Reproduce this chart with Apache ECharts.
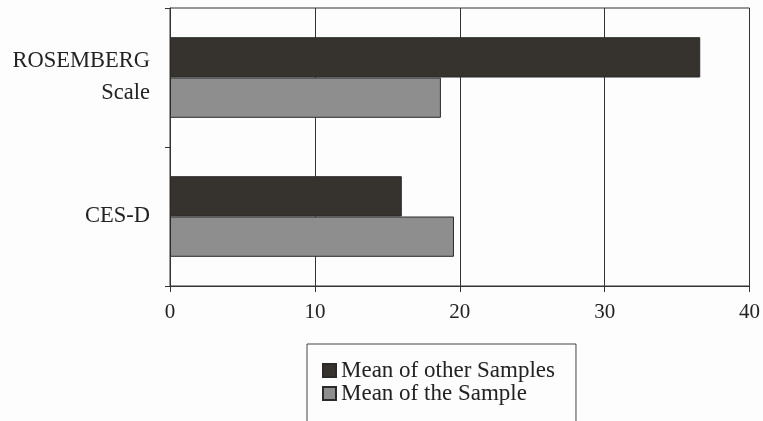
<!DOCTYPE html>
<html><head><meta charset="utf-8">
<script src="https://cdn.jsdelivr.net/npm/echarts@6/dist/echarts.min.js"></script>
<style>html,body{margin:0;padding:0;background:#fdfdfd}#c{width:763px;height:421px}</style>
</head><body><div id="c"></div>
<script>
const categories = ['ROSEMBERG\nScale', 'CES-D'];
const otherSamples = [36.6, 16.0];
const theSample = [18.7, 19.6];
const seriesNames = ['Mean of other Samples', 'Mean of the Sample'];
const xTicks = [0, 10, 20, 30, 40];

const FONT = '"Liberation Serif", "DejaVu Serif", serif';
const chart = echarts.init(document.getElementById('c'), null, {renderer: 'canvas'});
chart.setOption({
  backgroundColor: '#fdfdfd',
  animation: false,
  grid: {left: 170, right: 13, top: 8, bottom: 135, show: true, borderColor: '#333', borderWidth: 1, backgroundColor: 'transparent'},
  legend: {
    orient: 'vertical', left: 307, top: 344, height: 200,
    padding: [15, 21, 60, 15],
    borderColor: '#444', borderWidth: 1,
    icon: 'rect',
    itemWidth: 13, itemHeight: 13, itemGap: 0,
    textStyle: {fontFamily: FONT, fontSize: 23, lineHeight: 23, color: '#222'},
    data: seriesNames
  },
  xAxis: {
    type: 'value', min: xTicks[0], max: xTicks[xTicks.length - 1], interval: 10,
    axisLine: {show: true, lineStyle: {color: '#333', width: 1}},
    axisTick: {show: true, length: 6, lineStyle: {color: '#333'}},
    axisLabel: {fontFamily: FONT, fontSize: 21, color: '#222', margin: 16},
    splitLine: {show: true, lineStyle: {color: '#333', width: 1}}
  },
  yAxis: {
    type: 'category', data: categories, inverse: true,
    axisLine: {show: true, lineStyle: {color: '#333', width: 1}},
    axisTick: {show: true, length: 5, lineStyle: {color: '#333'}},
    axisLabel: {fontFamily: FONT, fontSize: 22.5, color: '#222', margin: 20, lineHeight: 32, align: 'right', padding: [10, 0, 0, 0]},
    splitLine: {show: false}
  },
  series: [
    {name: seriesNames[0], type: 'bar', data: otherSamples, barCategoryGap: '42%', barGap: '0%',
     itemStyle: {color: '#36332f', borderColor: '#2a2a2a', borderWidth: 1}},
    {name: seriesNames[1], type: 'bar', data: theSample, barCategoryGap: '42%', barGap: '0%',
     itemStyle: {color: '#8e8e8e', borderColor: '#2a2a2a', borderWidth: 1}}
  ]
});
</script></body></html>
